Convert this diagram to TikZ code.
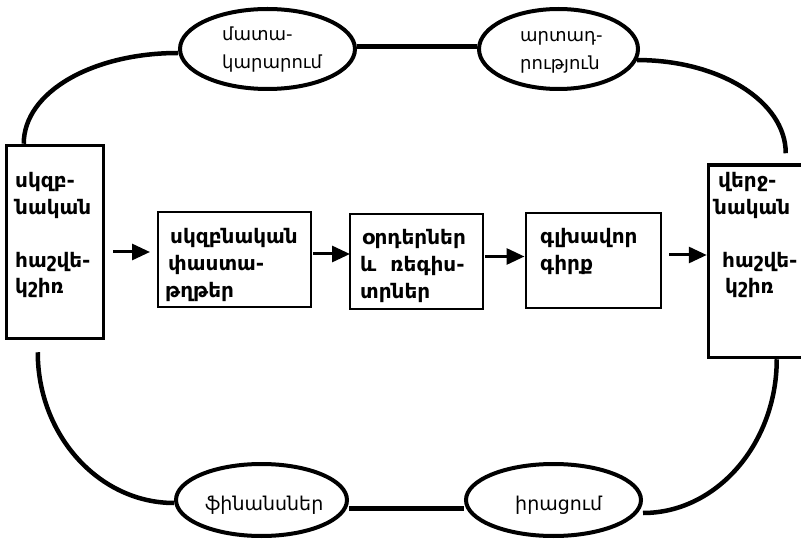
\documentclass[tikz,border=0pt]{standalone}
\usepackage{fontspec}
\setmainfont{DejaVu Sans}
\usetikzlibrary{shapes.geometric,arrows.meta,calc}
\begin{document}
\begin{tikzpicture}[x=1pt,y=-1pt,
  heavybox/.style={draw,line width=3.5pt,inner sep=0pt},
  lightbox/.style={draw,line width=2pt,inner sep=0pt},
  oval/.style={draw,ellipse,line width=4pt,inner sep=0pt},
  ovaltext/.style={font=\fontsize{18}{28}\selectfont,align=left,inner sep=0pt,anchor=north west},
  bigovaltext/.style={ovaltext,font=\fontsize{19}{28}\selectfont},
  boxtext/.style={font=\bfseries\fontsize{20}{27}\selectfont,align=left,inner sep=0pt,anchor=north west},
  tallboxtext/.style={boxtext,font=\bfseries\fontsize{20}{26.5}\selectfont},
  link/.style={line width=5pt},
  curve/.style={line width=4.5pt},
  arr/.style={line width=3pt,-{Triangle[length=18pt,width=16pt]}}
]
\fill[white] (0,0) rectangle (801,540);
\useasboundingbox (0,0) rectangle (801,540);

% ledger boxes
\node[heavybox,minimum width=97pt,minimum height=193pt] (L) at (55,242) {};
\node[heavybox,minimum width=111.5pt,minimum height=192.5pt] (R) at (764.25,261.25) {};
\node[lightbox,minimum width=153pt,minimum height=95pt] (B2) at (234,259.5) {};
\node[lightbox,minimum width=133pt,minimum height=94.5pt] (B3) at (416,261.5) {};
\node[lightbox,minimum width=135pt,minimum height=95pt] (B4) at (593,261) {};

% box captions
\node[tallboxtext] (Lt) at (15,169) {\strut սկզբ-\\նական\\[26.5pt]հաշվե-\\կշիռ};
\node[tallboxtext] (Rt) at (714,169) {\strut\hspace*{4pt}վերջ-\\նական\\[26.5pt]\hspace*{8pt}հաշվե-\\\hspace*{11pt}կշիռ};
\node[boxtext] (B2t) at (160,224.1) {\strut\hspace*{10pt}սկզբնական\\\hspace*{8pt}փաստա-\\\hspace*{5pt}թղթեր};
\node[boxtext] (B3t) at (360,225.1) {\strut\hspace*{2pt}օրդերներ\\և\ \ ռեգիս-\\տրներ};
\node[boxtext] (B4t) at (540,224.1) {\strut գլխավոր\\գիրք};

% activity ovals
\node[oval,minimum width=175pt,minimum height=80pt] (E1) at (267.5,49) {};
\node[oval,minimum width=159pt,minimum height=80pt] (E2) at (558.5,49) {};
\node[oval,minimum width=171pt,minimum height=72pt] (E3) at (261.5,500) {};
\node[oval,minimum width=175pt,minimum height=72pt] (E4) at (553.5,500) {};

% oval captions
\node[ovaltext] (E1t) at (222,20.4) {\strut մատա-\\կարարում};
\node[ovaltext] (E2t) at (520,21.4) {\strut արտադ-\\րություն};
\node[bigovaltext] (E3t) at (205,490.4) {\strut ֆինանսներ};
\node[bigovaltext] (E4t) at (515,490.4) {\strut իրացում};

% outer cycle
\draw[link] ([yshift=2pt]E1.east) -- ([yshift=2pt]E2.west);
\draw[link] ([yshift=-8pt]E3.east) -- ([yshift=-8pt]E4.west);
\draw[curve] ([yshift=-4pt]E1.west) .. controls +(-85,0) and +(0,-52) .. ([xshift=19pt]L.north west);
\draw[curve] (E2.-8) .. controls +(82,0) and +(0,-52) .. ([xshift=79pt,yshift=10pt]R.north west);
\draw[curve] ([xshift=33pt,yshift=-12pt]L.south west) .. controls +(0,83) and +(-75,0) .. ([yshift=-3pt]E3.west);
\draw[curve] ([xshift=70pt]R.south west) .. controls +(0,84) and +(74,0) .. ([yshift=-13pt]E4.east);

% flow between boxes
\draw[arr] ($(L.east)+(8,10)$) -- ($(B2.west)+(-6.5,-7.5)$);
\draw[arr] ($(B2.east)+(1.5,-5.5)$) -- ($(B3.west)+(1.5,-7.5)$);
\draw[arr] ($(B3.east)+(1.5,-5)$) -- ($(B4.west)+(0,-4.5)$);
\draw[arr] ($(B4.east)+(7.5,-6)$) -- ($(R.west)+(0,-6.25)$);
\end{tikzpicture}
\end{document}
